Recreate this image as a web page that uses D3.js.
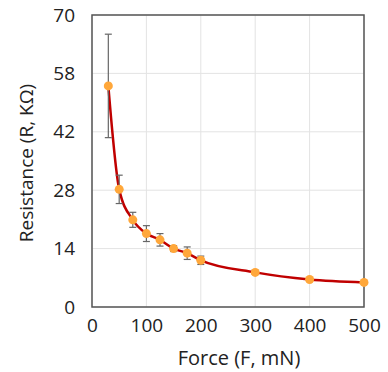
<!DOCTYPE html>
<html>
<head>
<meta charset="utf-8">
<script src="https://cdn.jsdelivr.net/npm/d3@7"></script>
<style>
  body { margin: 0; background: #fff; }
  svg text { font-family: "Open Sans", sans-serif; fill: #222; }
</style>
</head>
<body>
<div id="chart"></div>
<script>
// ------------------------------------------
//  Data
// ------------------------------------------
const force = [30, 50, 75, 100, 125, 150, 175, 200, 300, 400, 500]
const resistance = [53, 28.2, 20.9, 17.6, 16.1, 14.0, 12.9, 11.2, 8.3, 6.6, 5.9]
const errorBar = [12.4, 3.4, 1.8, 1.9, 1.5, 0.7, 1.5, 1.0, 0.5, 0.3, 0]

const xTicks = [0, 100, 200, 300, 400, 500]
const yTicks = [0, 14, 28, 42, 56, 70]
const yTickLabels = ['0', '14', '28', '42', '58', '70']

// ------------------------------------------
//  Chart
// ------------------------------------------
const W = 388, H = 372
const margin = { top: 15, right: 24, bottom: 65, left: 92 }
const width = W - margin.left - margin.right
const height = H - margin.top - margin.bottom

const svg = d3.select('#chart').append('svg').attr('width', W).attr('height', H)
const g = svg.append('g').attr('transform', `translate(${margin.left},${margin.top})`)

const x = d3.scaleLinear().domain([0, 500]).range([0, width])
const y = d3.scaleLinear().domain([0, 70]).range([height, 0])

// grid
g.append('g').selectAll('line.vg').data(xTicks).enter().append('line')
  .attr('x1', d => x(d)).attr('x2', d => x(d))
  .attr('y1', 0).attr('y2', height)
  .attr('stroke', '#e3e3e3').attr('stroke-width', 1)
g.append('g').selectAll('line.hg').data(yTicks).enter().append('line')
  .attr('x1', 0).attr('x2', width)
  .attr('y1', d => y(d)).attr('y2', d => y(d))
  .attr('stroke', '#e3e3e3').attr('stroke-width', 1)

// axes (labels only, frame drawn separately)
const xAxis = g.append('g')
  .attr('transform', `translate(0,${height})`)
  .call(d3.axisBottom(x).tickValues(xTicks).tickSize(0).tickPadding(12))
const yAxis = g.append('g')
  .call(d3.axisLeft(y).tickValues(yTicks).tickSize(0).tickPadding(17)
    .tickFormat((d, i) => yTickLabels[i]))
xAxis.select('.domain').remove()
yAxis.select('.domain').remove()
g.selectAll('.tick text').attr('font-size', 19).attr('font-family', '"Open Sans", sans-serif').attr('fill', '#222')

g.append('rect')
  .attr('width', width).attr('height', height)
  .attr('fill', 'none').attr('stroke', '#555').attr('stroke-width', 1.5)

// line
const line = d3.line()
  .x(d => x(d[0])).y(d => y(d[1]))
  .curve(d3.curveMonotoneX)
g.append('path')
  .datum(force.map((f, i) => [f, resistance[i]]))
  .attr('d', line)
  .attr('fill', 'none').attr('stroke', '#c00000').attr('stroke-width', 2.5)

// error bars
const eb = g.append('g').attr('stroke', '#666').attr('stroke-width', 1.2)
force.forEach((f, i) => {
  if (!errorBar[i]) return
  const lo = y(resistance[i] - errorBar[i]), hi = y(resistance[i] + errorBar[i])
  eb.append('line').attr('x1', x(f)).attr('x2', x(f)).attr('y1', lo).attr('y2', hi)
  eb.append('line').attr('x1', x(f) - 3.5).attr('x2', x(f) + 3.5).attr('y1', lo).attr('y2', lo)
  eb.append('line').attr('x1', x(f) - 3.5).attr('x2', x(f) + 3.5).attr('y1', hi).attr('y2', hi)
})

// points
g.selectAll('.point').data(force).enter().append('circle')
  .attr('cx', d => x(d)).attr('cy', (d, i) => y(resistance[i]))
  .attr('r', 4.5).attr('fill', '#ffa73a')

// titles
svg.append('text')
  .attr('x', 239).attr('y', 365)
  .attr('text-anchor', 'middle').attr('font-size', 20)
  .text('Force (F, mN)')
svg.append('text')
  .attr('transform', 'translate(33,163) rotate(-90)')
  .attr('text-anchor', 'middle').attr('font-size', 19)
  .text('Resistance (R, KΩ)')
</script>
</body>
</html>
